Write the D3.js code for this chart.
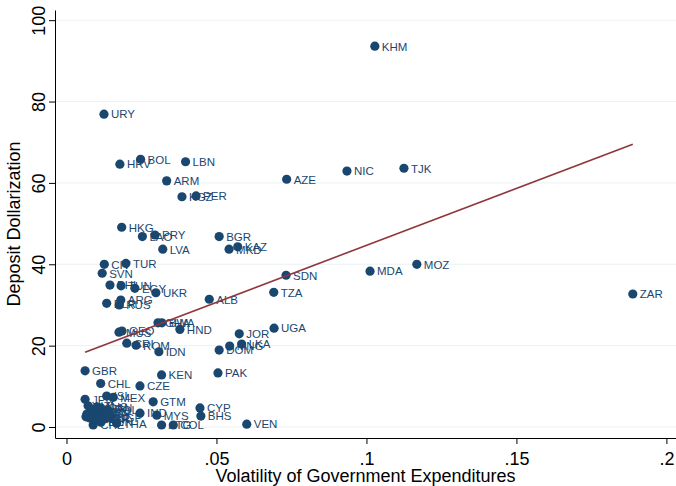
<!DOCTYPE html>
<html>
<head>
<meta charset="utf-8">
<script src="https://cdn.jsdelivr.net/npm/d3@7"></script>
<style>
  body { margin: 0; background: #fff; }
  text { font-family: "Liberation Sans", Arial, Helvetica, sans-serif; }
</style>
</head>
<body>
<div id="chart-area"></div>
<script>
// country codes, volatility of govt expenditures, deposit dollarization (%)
var countries = ["KHM","URY","BOL","HRV","LBN","ARM","AZE","NIC","TJK","KGZ","PER",
  "HKG","LAO","PRY","LVA","BGR","MKD","KAZ","SDN","MDA","MOZ","ZAR","TZA","ALB",
  "UGA","JOR","LKA","MNG","DOM","PAK","CIV","TUR","SVN","PHL","TUN","EGY","UKR",
  "BLR","ARG","RUS","GHA","BWA","HND","MUS","GEO","CRI","ROM","IDN","GBR","KEN",
  "CHL","CZE","JPN","ISL","MEX","GTM","IND","MYS","CYP","BHS","ATG","COL","VEN",
  "THA","CHE","NZL","NLD","AUS","CAN","SWE","DNK","NOR","FIN","USA","KOR","ISR",
  "SGP","ZAF","HUN","POL"];
var volatility = [0.1028,0.0125,0.0247,0.0178,0.0397,0.0334,0.0734,0.0935,0.1125,0.0385,0.0432,
  0.0184,0.0253,0.0295,0.0321,0.0509,0.0542,0.0571,0.0732,0.1012,0.1168,0.1888,0.0691,0.0476,
  0.0692,0.0576,0.0584,0.0544,0.0509,0.0505,0.0126,0.0198,0.0119,0.0145,0.0182,0.0228,0.0298,
  0.0134,0.0181,0.0176,0.0305,0.0318,0.0378,0.0175,0.0185,0.0201,0.0232,0.0308,0.0062,0.0317,
  0.0114,0.0245,0.0062,0.0134,0.0156,0.0289,0.0245,0.0301,0.0445,0.0448,0.0317,0.0356,0.0601,
  0.0167,0.0089,0.0072,0.0085,0.0102,0.0115,0.0068,0.0088,0.0108,0.0125,0.0078,0.0102,0.0125,
  0.0148,0.0065,0.0115,0.0138];
var dollarization = [93.6,76.9,65.8,64.6,65.2,60.5,60.9,62.9,63.6,56.6,56.8,
  49.1,46.8,47.2,43.7,46.8,43.7,44.3,37.3,38.3,40.0,32.7,33.1,31.4,
  24.3,22.9,20.4,19.9,18.9,13.3,40.0,40.2,37.8,34.9,34.7,34.1,33.0,
  30.4,31.2,30.0,25.6,25.6,24.0,23.3,23.6,20.6,20.1,18.5,13.8,12.8,
  10.7,10.1,6.8,7.6,7.3,6.2,3.4,2.9,4.7,2.7,0.5,0.5,0.7,
  0.9,0.5,5.2,4.4,4.9,4.7,3.2,3.4,3.2,3.7,2.2,2.0,2.0,
  2.2,2.5,1.2,4.2];

// fitted values (linear fit)
var fitX = [0.0062, 0.1888];
var fitY = [18.4, 69.5];

var xTicks = [0, 0.05, 0.1, 0.15, 0.2];
var xTickLabels = ["0", ".05", ".1", ".15", ".2"];
var yTicks = [0, 20, 40, 60, 80, 100];

var width = 676;
var height = 486;
var plot = {left: 55, right: 676, top: 10, bottom: 438};

var navy = "#1a476f";
var maroon = "#90353b";

var svg = d3.select("#chart-area")
    .append("svg")
    .attr("width", width)
    .attr("height", height);

var x = d3.scaleLinear()
    .domain([-0.00383, 0.2032])
    .range([plot.left, plot.right]);

var y = d3.scaleLinear()
    .domain([-2.7, 102.5])
    .range([plot.bottom, plot.top]);

// gridlines
svg.append("g")
    .selectAll("line")
    .data(yTicks)
    .enter()
    .append("line")
        .attr("x1", plot.left)
        .attr("x2", plot.right)
        .attr("y1", (d) => y(d))
        .attr("y2", (d) => y(d))
        .attr("stroke", "#eaf2f3")
        .attr("stroke-width", 1);

var data = countries.map((c, i) => {
    return {name: c, vol: volatility[i], dol: dollarization[i]};
});

// markers
svg.append("g")
    .selectAll("circle")
    .data(data)
    .enter()
    .append("circle")
        .attr("cx", (d) => x(d.vol))
        .attr("cy", (d) => y(d.dol))
        .attr("r", 4.6)
        .attr("fill", navy);

// marker labels
svg.append("g")
    .selectAll("text")
    .data(data)
    .enter()
    .append("text")
        .attr("x", (d) => x(d.vol) + 7)
        .attr("y", (d) => y(d.dol) + 4.3)
        .attr("font-size", "11.5px")
        .attr("fill", navy)
        .text((d) => d.name);

// fitted line
var fit = fitX.map((v, i) => [v, fitY[i]]);
svg.append("path")
    .datum(fit)
    .attr("fill", "none")
    .attr("stroke", maroon)
    .attr("stroke-width", 1.6)
    .attr("d", d3.line().x((d) => x(d[0])).y((d) => y(d[1])));

// x axis
var xAxisCall = d3.axisBottom(x)
    .tickValues(xTicks)
    .tickSize(6)
    .tickSizeOuter(0)
    .tickFormat((d, i) => xTickLabels[i]);

var xAxis = svg.append("g")
    .attr("transform", "translate(0, " + plot.bottom + ")")
    .call(xAxisCall);
xAxis.select(".domain").attr("stroke", "#000");
xAxis.selectAll("line").attr("stroke", "#000");
xAxis.selectAll("text")
    .attr("font-size", "18px")
    .attr("fill", "#000")
    .attr("font-family", "Liberation Sans, Arial, sans-serif")
    .attr("dy", "0")
    .attr("y", 27);

// y axis
var yAxisCall = d3.axisLeft(y)
    .tickValues(yTicks)
    .tickSize(6)
    .tickSizeOuter(0);

var yAxis = svg.append("g")
    .attr("transform", "translate(" + plot.left + ", 0)")
    .call(yAxisCall);
yAxis.select(".domain").attr("stroke", "#000");
yAxis.selectAll("line").attr("stroke", "#000");
yAxis.selectAll("text")
    .attr("font-size", "18px")
    .attr("fill", "#000")
    .attr("font-family", "Liberation Sans, Arial, sans-serif")
    .attr("text-anchor", "middle")
    .attr("x", 0)
    .attr("dy", "0")
    .attr("y", 0)
    .attr("transform", "translate(-10, 0) rotate(-90)");

// axis titles
svg.append("text")
    .attr("x", (plot.left + plot.right) / 2)
    .attr("y", 482)
    .attr("font-size", "18px")
    .attr("text-anchor", "middle")
    .text("Volatility of Government Expenditures");

svg.append("text")
    .attr("x", -(plot.top + plot.bottom) / 2)
    .attr("y", 20)
    .attr("font-size", "18px")
    .attr("text-anchor", "middle")
    .attr("transform", "rotate(-90)")
    .text("Deposit Dollarization");
</script>
</body>
</html>
